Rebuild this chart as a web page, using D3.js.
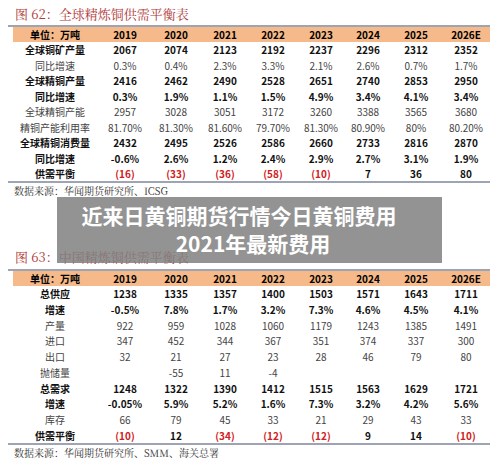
<!DOCTYPE html><html><head><meta charset="utf-8">
<script src="https://cdn.jsdelivr.net/npm/d3@7"></script>
<style>body{margin:0;background:#fff}svg{display:block}</style></head><body>
<script>
const years=["2019","2020","2021","2022","2023","2024","2025","2026E"];
const t1Labels=["全球铜矿产量","同比增速","全球精铜产量","同比增速","全球精铜产能","精铜产能利用率","全球精铜消费量","同比增速","供需平衡"];
const t1Bold=[1,0,1,1,0,0,1,1,1];
const t1Values=[
["2067","2074","2123","2192","2237","2296","2312","2352"],
["0.3%","0.4%","2.3%","3.3%","2.1%","2.6%","0.7%","1.7%"],
["2416","2462","2490","2528","2651","2740","2853","2950"],
["0.3%","1.9%","1.1%","1.5%","4.9%","3.4%","4.1%","3.4%"],
["2957","3028","3051","3172","3260","3388","3565","3680"],
["81.70%","81.30%","81.60%","79.70%","81.30%","80.90%","80%","80.20%"],
["2432","2495","2526","2586","2660","2733","2816","2870"],
["-0.6%","2.6%","1.2%","2.4%","2.9%","2.7%","3.1%","1.9%"],
["(16)","(33)","(36)","(58)","(10)","7","36","80"]];
const t2Labels=["总供应","增速","产量","进口","出口","抛储量","总需求","增速","库存","供需平衡"];
const t2Bold=[1,1,0,0,0,0,1,1,0,1];
const t2Values=[
["1238","1335","1357","1400","1503","1571","1643","1711"],
["-0.5%","7.8%","1.7%","3.2%","7.3%","4.6%","4.5%","4.1%"],
["922","959","1028","1060","1179","1243","1385","1491"],
["347","452","344","367","351","374","337","300"],
["32","21","27","23","28","46","79","80"],
["","-55","11","-4","","","",""],
["1248","1322","1390","1412","1515","1563","1629","1721"],
["-0.05%","5.9%","5.2%","1.6%","7.3%","3.2%","4.2%","5.6%"],
["66","79","45","33","21","29","43","33"],
["(10)","12","(34)","(12)","(12)","9","14","(10)"]];
const svg=d3.select("body").append("svg").attr("width",500).attr("height",462);
const colX=c=>c==="label"?55:[125,176,225,273,321,368,416,466][years.indexOf(c)];
const font="'Noto Sans CJK SC',sans-serif";
function table(o){
 svg.append("text").attr("x",15).attr("y",o.titleY).attr("font-family","'Noto Serif CJK SC','Noto Sans CJK SC',serif").attr("font-size",13).attr("fill","#b03a3a").text(o.title);
 svg.append("line").attr("x1",8).attr("x2",490).attr("y1",o.top).attr("y2",o.top).attr("stroke","#3c4b6b").attr("stroke-width",1.2);
 svg.append("rect").attr("x",13).attr("width",477).attr("y",o.top+1).attr("height",15).attr("fill","#f6b98a");
 const g=svg.append("g").attr("font-family",font).attr("text-anchor","middle");
 g.append("text").attr("x",colX("label")).attr("y",o.top+13).attr("font-size",10).attr("font-weight","bold").text("单位：万吨");
 years.forEach(yr=>g.append("text").attr("x",colX(yr)).attr("y",o.top+13).attr("font-size",10).attr("font-weight","bold").text(yr));
 const y=d3.scalePoint().domain(d3.range(o.labels.length)).range(o.rows);
 o.labels.forEach((l,i)=>{
  const b=o.bold[i];
  g.append("text").attr("x",colX("label")).attr("y",y(i)+4).attr("font-size",10).attr("font-weight",b?"bold":"normal").attr("fill",b?"#111":"#444").text(l);
  o.values[i].forEach((v,j)=>g.append("text").attr("x",colX(years[j])).attr("y",y(i)+4).attr("font-size",10).attr("font-weight",b?"bold":"normal")
   .attr("fill",v.startsWith("(")?"#d02020":(b?"#111":"#444")).text(v));
 });
 svg.append("line").attr("x1",8).attr("x2",490).attr("y1",o.bottom).attr("y2",o.bottom).attr("stroke","#3c4b6b").attr("stroke-width",1.2);
 svg.append("text").attr("x",14).attr("y",o.bottom+13).attr("font-family","'Noto Serif CJK SC',serif").attr("font-size",10).attr("fill","#333").text(o.source);
}
table({title:"图 62：全球精炼铜供需平衡表",titleY:19,top:26,labels:t1Labels,bold:t1Bold,values:t1Values,rows:[50,174],bottom:182,source:"数据来源：华闻期货研究所、ICSG"});
table({title:"图 63：中国精炼铜供需平衡表",titleY:262,top:270,labels:t2Labels,bold:t2Bold,values:t2Values,rows:[294,436],bottom:444,source:"数据来源：华闻期货研究所、SMM、海关总署"});
svg.append("rect").attr("x",57).attr("y",197).attr("width",385).attr("height",66).attr("fill","rgba(128,128,128,0.85)");
const ov=svg.append("g").attr("font-family",font).attr("font-weight","bold").attr("font-size",21).attr("fill","#fff").attr("text-anchor","middle");
ov.append("text").attr("x",239).attr("y",224).text("近来日黄铜期货行情今日黄铜费用");
ov.append("text").attr("x",253).attr("y",252).text("2021年最新费用");
</script></body></html>
